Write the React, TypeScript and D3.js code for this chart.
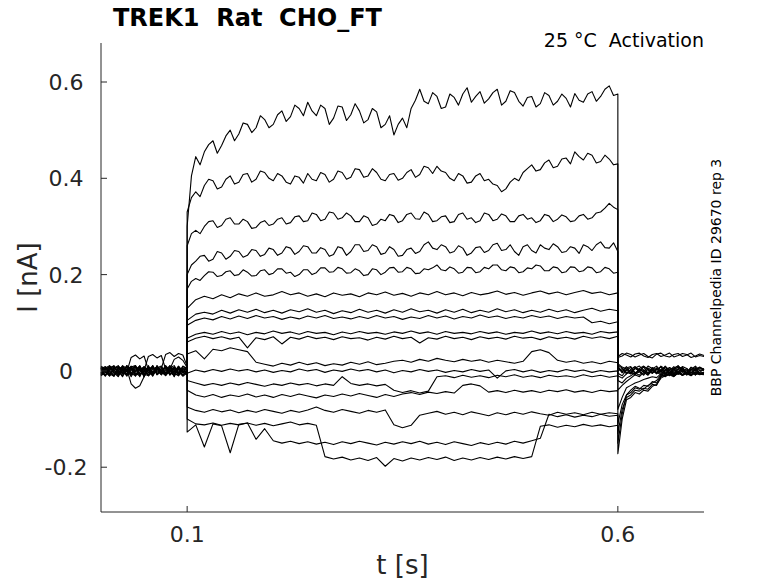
import * as d3 from 'd3';

// sample times [s]: holding, voltage step (fine / coarse), tail
const T_PRE = [
  0, 0.005, 0.01, 0.015, 0.02, 0.025, 0.03, 0.035, 0.04, 0.045,
  0.05, 0.055, 0.06, 0.065, 0.07, 0.075, 0.08, 0.085, 0.09, 0.095,
  0.1,
];
const T_STEP_FINE = [
  0.1, 0.105, 0.11, 0.115, 0.12, 0.125, 0.13, 0.135, 0.14, 0.145,
  0.15, 0.155, 0.16, 0.165, 0.17, 0.175, 0.18, 0.185, 0.19, 0.195,
  0.2, 0.205, 0.21, 0.215, 0.22, 0.225, 0.23, 0.235, 0.24, 0.245,
  0.25, 0.255, 0.26, 0.265, 0.27, 0.275, 0.28, 0.285, 0.29, 0.295,
  0.3, 0.305, 0.31, 0.315, 0.32, 0.325, 0.33, 0.335, 0.34, 0.345,
  0.35, 0.355, 0.36, 0.365, 0.37, 0.375, 0.38, 0.385, 0.39, 0.395,
  0.4, 0.405, 0.41, 0.415, 0.42, 0.425, 0.43, 0.435, 0.44, 0.445,
  0.45, 0.455, 0.46, 0.465, 0.47, 0.475, 0.48, 0.485, 0.49, 0.495,
  0.5, 0.505, 0.51, 0.515, 0.52, 0.525, 0.53, 0.535, 0.54, 0.545,
  0.55, 0.555, 0.56, 0.565, 0.57, 0.575, 0.58, 0.585, 0.59, 0.595,
  0.6,
];
const T_STEP = [
  0.1, 0.11, 0.12, 0.13, 0.14, 0.15, 0.16, 0.17, 0.18, 0.19,
  0.2, 0.21, 0.22, 0.23, 0.24, 0.25, 0.26, 0.27, 0.28, 0.29,
  0.3, 0.31, 0.32, 0.33, 0.34, 0.35, 0.36, 0.37, 0.38, 0.39,
  0.4, 0.41, 0.42, 0.43, 0.44, 0.45, 0.46, 0.47, 0.48, 0.49,
  0.5, 0.51, 0.52, 0.53, 0.54, 0.55, 0.56, 0.57, 0.58, 0.59,
  0.6,
];
const T_POST = [
  0.6, 0.605, 0.61, 0.615, 0.62, 0.625, 0.63, 0.635, 0.64, 0.645,
  0.65, 0.655, 0.66, 0.665, 0.67, 0.675, 0.68, 0.685, 0.69, 0.695,
  0.7,
];

// current sweeps [nA]: pre (21) | step (fine 101 or coarse 51) | post (21)
const SWEEP_01 = [
  0.004, 0.009, -0.003, -0.011, 0.002, 0.01, 0.006, -0.007, -0.002, 0.011,
  -0.006, -0.01, 0.003, 0.008, -0.001, -0.009, 0.007, 0.002, -0.005, 0.009, 0.003,
  0.3, 0.405, 0.445, 0.428, 0.455, 0.47, 0.478, 0.452, 0.468, 0.488,
  0.5, 0.478, 0.492, 0.515, 0.512, 0.495, 0.505, 0.53, 0.522, 0.505,
  0.512, 0.532, 0.54, 0.518, 0.528, 0.552, 0.545, 0.53, 0.558, 0.54,
  0.53, 0.552, 0.545, 0.512, 0.525, 0.55, 0.548, 0.52, 0.532, 0.555,
  0.54, 0.515, 0.522, 0.545, 0.538, 0.505, 0.512, 0.53, 0.49, 0.512,
  0.525, 0.505, 0.545, 0.562, 0.585, 0.56, 0.555, 0.578, 0.57, 0.545,
  0.548, 0.575, 0.568, 0.552, 0.575, 0.588, 0.558, 0.57, 0.58, 0.556,
  0.565, 0.578, 0.585, 0.552, 0.56, 0.582, 0.578, 0.56, 0.55, 0.568,
  0.57, 0.548, 0.555, 0.578, 0.572, 0.552, 0.56, 0.575, 0.566, 0.548,
  0.576, 0.562, 0.558, 0.575, 0.58, 0.56, 0.57, 0.585, 0.592, 0.572,
  0.575,
  0.03, 0.036, 0.033, 0.029, 0.035, 0.037, 0.031, 0.028, 0.034, 0.036,
  0.03, 0.033, 0.037, 0.029, 0.032, 0.036, 0.034, 0.028, 0.031, 0.035, 0.032,
];
const SWEEP_02 = [
  -0.006, 0.002, 0.01, -0.004, -0.012, 0.005, -0.001, 0.008, 0.011, -0.007,
  0.0, -0.01, 0.006, 0.003, -0.008, 0.01, -0.004, -0.009, 0.005, -0.001, -0.002,
  0.33, 0.36, 0.372, 0.362, 0.385, 0.398, 0.395, 0.378, 0.382, 0.398,
  0.405, 0.388, 0.392, 0.408, 0.41, 0.392, 0.398, 0.415, 0.412, 0.4,
  0.395, 0.41, 0.405, 0.392, 0.388, 0.405, 0.402, 0.39, 0.41, 0.398,
  0.395, 0.412, 0.408, 0.392, 0.398, 0.415, 0.412, 0.398, 0.402, 0.42,
  0.418, 0.402, 0.405, 0.42, 0.412, 0.398, 0.395, 0.408, 0.41, 0.396,
  0.4, 0.412, 0.418, 0.402, 0.408, 0.425, 0.422, 0.41, 0.425, 0.415,
  0.412, 0.4, 0.395, 0.41, 0.405, 0.39, 0.392, 0.405, 0.41, 0.395,
  0.398, 0.388, 0.385, 0.372, 0.378, 0.392, 0.4, 0.395, 0.412, 0.42,
  0.428, 0.415, 0.418, 0.432, 0.438, 0.422, 0.425, 0.44, 0.442, 0.43,
  0.455, 0.445, 0.438, 0.452, 0.448, 0.432, 0.435, 0.448, 0.44, 0.428,
  0.43,
  0.028, 0.031, 0.037, 0.034, 0.029, 0.033, 0.036, 0.03, 0.027, 0.035,
  0.037, 0.031, 0.029, 0.034, 0.036, 0.03, 0.033, 0.037, 0.029, 0.032, 0.03,
];
const SWEEP_03 = [
  0.008, -0.002, -0.009, 0.005, 0.001, -0.006, 0.011, 0.004, -0.008, -0.003,
  0.009, 0.002, -0.011, 0.006, 0.01, -0.004, 0.0, 0.008, -0.01, 0.004, 0.004,
  0.26, 0.285, 0.292, 0.285, 0.3, 0.31, 0.312, 0.298, 0.302, 0.315,
  0.318, 0.305, 0.305, 0.315, 0.31, 0.296, 0.298, 0.308, 0.312, 0.302,
  0.305, 0.315, 0.318, 0.305, 0.308, 0.32, 0.322, 0.31, 0.312, 0.328,
  0.325, 0.312, 0.315, 0.33, 0.328, 0.315, 0.318, 0.328, 0.322, 0.31,
  0.31, 0.322, 0.318, 0.302, 0.305, 0.315, 0.312, 0.325, 0.322, 0.308,
  0.312, 0.325, 0.328, 0.316, 0.315, 0.33, 0.325, 0.31, 0.312, 0.32,
  0.322, 0.308, 0.31, 0.325, 0.328, 0.315, 0.318, 0.308, 0.312, 0.328,
  0.325, 0.312, 0.315, 0.326, 0.322, 0.31, 0.31, 0.322, 0.325, 0.315,
  0.318, 0.308, 0.312, 0.325, 0.322, 0.31, 0.315, 0.324, 0.32, 0.31,
  0.312, 0.322, 0.325, 0.315, 0.318, 0.328, 0.33, 0.338, 0.348, 0.34,
  0.335,
  0.015, 0.008, 0.004, -0.003, 0.006, 0.01, 0.001, -0.004, 0.007, 0.002,
  0.009, -0.002, -0.005, 0.006, 0.01, 0.003, -0.003, 0.008, 0.001, 0.006, 0.003,
];
const SWEEP_04 = [
  -0.01, -0.003, 0.006, 0.011, -0.005, 0.002, -0.009, 0.007, -0.001, 0.01,
  -0.012, 0.004, 0.008, -0.006, 0.001, 0.009, -0.007, -0.002, 0.01, -0.004, 0.0,
  0.2, 0.22, 0.228, 0.238, 0.24, 0.228, 0.232, 0.248, 0.245, 0.232,
  0.238, 0.25, 0.248, 0.236, 0.24, 0.252, 0.25, 0.238, 0.242, 0.255,
  0.252, 0.24, 0.245, 0.258, 0.255, 0.242, 0.248, 0.26, 0.258, 0.245,
  0.245, 0.256, 0.252, 0.238, 0.242, 0.258, 0.255, 0.24, 0.248, 0.262,
  0.262, 0.248, 0.25, 0.262, 0.258, 0.242, 0.245, 0.258, 0.252, 0.238,
  0.24, 0.252, 0.255, 0.244, 0.248, 0.262, 0.268, 0.255, 0.252, 0.262,
  0.258, 0.245, 0.248, 0.26, 0.255, 0.24, 0.245, 0.256, 0.258, 0.246,
  0.25, 0.262, 0.265, 0.25, 0.252, 0.262, 0.248, 0.24, 0.258, 0.262,
  0.25, 0.245, 0.262, 0.255, 0.252, 0.264, 0.258, 0.246, 0.248, 0.258,
  0.255, 0.244, 0.262, 0.258, 0.25, 0.262, 0.268, 0.256, 0.255, 0.266,
  0.248,
  0.01, -0.002, 0.006, 0.009, -0.004, 0.001, 0.008, -0.005, 0.004, 0.01,
  -0.002, -0.006, 0.007, 0.002, -0.003, 0.009, 0.005, -0.004, 0.002, 0.008, 0.002,
];
const SWEEP_05 = [
  0.006, -0.004, 0.01, 0.001, -0.008, 0.005, -0.002, 0.028, 0.033, 0.025,
  0.031, 0.002, -0.009, 0.007, 0.001, -0.006, 0.01, -0.003, 0.005, -0.01, 0.002,
  0.17, 0.186, 0.192, 0.188, 0.198, 0.206, 0.205, 0.196, 0.198, 0.206,
  0.208, 0.198, 0.2, 0.21, 0.205, 0.197, 0.198, 0.208, 0.21, 0.2,
  0.203, 0.212, 0.212, 0.203, 0.205, 0.196, 0.2, 0.21, 0.21, 0.2,
  0.204, 0.214, 0.214, 0.205, 0.206, 0.215, 0.212, 0.203, 0.204, 0.212,
  0.208, 0.198, 0.2, 0.212, 0.21, 0.2, 0.205, 0.214, 0.215, 0.205,
  0.206, 0.215, 0.212, 0.202, 0.203, 0.212, 0.21, 0.214, 0.22, 0.21,
  0.208, 0.216, 0.212, 0.203, 0.205, 0.215, 0.214, 0.204, 0.206, 0.215,
  0.212, 0.22, 0.22, 0.21, 0.208, 0.216, 0.214, 0.204, 0.206, 0.214,
  0.212, 0.22, 0.218, 0.208, 0.208, 0.216, 0.214, 0.204, 0.206, 0.216,
  0.215, 0.206, 0.208, 0.216, 0.214, 0.204, 0.206, 0.215, 0.212, 0.203,
  0.205,
  0.012, 0.006, -0.003, -0.006, 0.008, 0.003, -0.002, 0.01, 0.005, -0.005,
  0.001, 0.009, -0.004, 0.004, 0.011, -0.001, -0.006, 0.007, 0.002, -0.003, 0.004,
];
const SWEEP_06 = [
  -0.004, 0.005, -0.009, 0.008, 0.001, -0.011, 0.004, -0.027, -0.036, -0.031,
  -0.012, 0.006, -0.003, 0.009, -0.008, 0.002, 0.011, -0.005, -0.01, 0.004, 0.005,
  0.13, 0.148, 0.155, 0.15, 0.158, 0.152, 0.16, 0.155, 0.162, 0.155,
  0.158, 0.165, 0.158, 0.162, 0.155, 0.16, 0.154, 0.162, 0.157, 0.16,
  0.154, 0.162, 0.158, 0.164, 0.157, 0.161, 0.155, 0.162, 0.158, 0.165,
  0.158, 0.162, 0.156, 0.163, 0.158, 0.161, 0.166, 0.159, 0.163, 0.157,
  0.162, 0.166, 0.16, 0.164, 0.158, 0.163, 0.167, 0.161, 0.164, 0.158,
  0.162,
  0.005, 0.001, 0.009, -0.004, -0.007, 0.005, 0.01, 0.002, -0.005, 0.003,
  0.008, -0.006, 0.0, 0.009, -0.002, 0.006, -0.007, 0.003, 0.01, 0.001, 0.004,
];
const SWEEP_07 = [
  0.009, 0.002, -0.007, 0.004, -0.011, 0.008, 0.003, -0.005, 0.01, -0.009,
  0.001, 0.03, 0.034, 0.027, 0.032, 0.004, -0.008, 0.006, -0.002, -0.011, -0.004,
  0.105, 0.118, 0.122, 0.118, 0.126, 0.12, 0.127, 0.122, 0.128, 0.121,
  0.126, 0.12, 0.127, 0.123, 0.129, 0.122, 0.126, 0.119, 0.125, 0.121,
  0.128, 0.122, 0.126, 0.12, 0.127, 0.122, 0.129, 0.123, 0.126, 0.12,
  0.127, 0.122, 0.128, 0.121, 0.126, 0.122, 0.129, 0.123, 0.127, 0.121,
  0.126, 0.122, 0.128, 0.123, 0.127, 0.121, 0.126, 0.13, 0.124, 0.128,
  0.125,
  0.008, -0.004, 0.002, 0.007, -0.006, -0.002, 0.009, 0.004, -0.005, 0.006,
  -0.003, 0.01, 0.001, -0.007, 0.005, 0.008, -0.004, 0.002, 0.007, -0.005, -0.005,
];
const SWEEP_08 = [
  -0.007, 0.006, 0.011, -0.003, -0.009, 0.002, 0.008, -0.012, 0.004, 0.009,
  -0.005, 0.0, 0.01, -0.008, 0.005, 0.034, 0.038, 0.03, 0.036, 0.033, 0.01,
  0.095, 0.105, 0.11, 0.106, 0.113, 0.108, 0.114, 0.109, 0.115, 0.11,
  0.113, 0.107, 0.112, 0.108, 0.114, 0.11, 0.115, 0.109, 0.112, 0.108,
  0.113, 0.109, 0.115, 0.11, 0.113, 0.107, 0.112, 0.109, 0.115, 0.11,
  0.114, 0.108, 0.113, 0.11, 0.116, 0.111, 0.114, 0.109, 0.113, 0.11,
  0.115, 0.111, 0.114, 0.109, 0.113, 0.11, 0.112, 0.1, 0.103, 0.098,
  0.102,
  0.0, 0.005, -0.006, 0.003, 0.009, -0.002, -0.007, 0.006, 0.001, -0.004,
  0.01, 0.004, -0.006, 0.002, 0.008, -0.003, 0.005, -0.008, 0.003, 0.007, 0.004,
];
const SWEEP_09 = [
  0.005, -0.011, 0.002, 0.009, -0.004, 0.007, -0.009, 0.001, 0.011, -0.006,
  -0.001, 0.008, -0.01, 0.004, 0.0, -0.007, 0.01, 0.003, -0.009, 0.006, -0.005,
  0.068, 0.076, 0.08, 0.076, 0.082, 0.077, 0.081, 0.075, 0.08, 0.077,
  0.083, 0.078, 0.081, 0.076, 0.082, 0.078, 0.08, 0.075, 0.081, 0.077,
  0.082, 0.078, 0.08, 0.076, 0.081, 0.078, 0.083, 0.078, 0.081, 0.076,
  0.082, 0.078, 0.08, 0.077, 0.082, 0.078, 0.081, 0.076, 0.08, 0.078,
  0.083, 0.078, 0.081, 0.077, 0.082, 0.078, 0.08, 0.076, 0.082, 0.079,
  0.081,
  -0.005, -0.01, 0.002, -0.006, 0.005, 0.0, -0.009, 0.004, -0.003, 0.006,
  -0.008, 0.001, 0.007, -0.005, -0.002, 0.005, -0.009, 0.003, 0.0, -0.006, -0.004,
];
const SWEEP_10 = [
  -0.008, 0.007, -0.001, -0.01, 0.01, 0.003, -0.006, 0.009, -0.011, 0.002,
  0.006, -0.004, 0.011, -0.008, -0.002, 0.007, 0.001, -0.01, 0.008, -0.003, 0.002,
  0.06, 0.068, 0.072, 0.067, 0.071, 0.066, 0.07, 0.048, 0.069, 0.065,
  0.071, 0.056, 0.07, 0.066, 0.072, 0.067, 0.07, 0.065, 0.071, 0.067,
  0.069, 0.064, 0.07, 0.066, 0.072, 0.067, 0.07, 0.058, 0.069, 0.066,
  0.072, 0.067, 0.07, 0.065, 0.071, 0.067, 0.07, 0.066, 0.072, 0.068,
  0.07, 0.065, 0.071, 0.067, 0.07, 0.066, 0.072, 0.068, 0.071, 0.067,
  0.072,
  -0.01, -0.015, -0.006, 0.002, -0.009, 0.004, -0.002, -0.008, 0.005, -0.004,
  0.002, -0.01, 0.003, 0.006, -0.007, 0.0, -0.005, 0.004, -0.009, 0.002, 0.001,
];
const SWEEP_11 = [
  0.007, 0.0, -0.01, 0.006, 0.011, -0.004, -0.008, 0.003, 0.009, -0.012,
  0.005, 0.001, -0.007, 0.01, -0.003, -0.009, 0.006, 0.011, -0.005, 0.002, 0.004,
  0.035, 0.042, 0.025, 0.045, 0.042, 0.048, 0.044, 0.04, 0.018, 0.014,
  0.01, 0.016, 0.012, 0.018, 0.013, 0.017, 0.011, 0.015, 0.012, 0.018,
  0.014, 0.019, 0.013, 0.016, 0.02, 0.022, 0.018, 0.024, 0.02, 0.026,
  0.022, 0.019, 0.024, 0.02, 0.023, 0.018, 0.022, 0.019, 0.016, 0.02,
  0.04, 0.044, 0.038, 0.022, 0.018, 0.021, 0.016, 0.019, 0.015, 0.02,
  0.017,
  -0.02, -0.025, -0.015, -0.01, -0.004, -0.009, 0.002, -0.006, 0.005, -0.003,
  -0.008, 0.003, 0.0, -0.006, 0.004, -0.009, 0.002, -0.004, 0.006, -0.007, -0.005,
];
const SWEEP_12 = [
  -0.003, -0.01, 0.005, 0.001, -0.007, 0.011, -0.002, -0.009, 0.007, 0.003,
  -0.011, 0.008, -0.004, 0.01, 0.0, -0.008, 0.004, -0.012, 0.009, 0.001, -0.006,
  -0.005, 0.002, -0.002, 0.003, -0.001, 0.004, 0.0, 0.003, -0.002, 0.002,
  -0.003, 0.001, -0.002, 0.004, 0.0, 0.003, -0.003, 0.002, -0.001, 0.004,
  0.0, 0.003, -0.002, 0.002, -0.004, 0.001, -0.002, 0.003, -0.001, 0.002,
  -0.003, 0.001, -0.002, 0.003, -0.001, 0.002, -0.015, 0.0, 0.003, -0.002,
  0.002, -0.003, 0.001, -0.002, 0.003, -0.001, 0.002, -0.003, 0.001, -0.002,
  0.0,
  -0.04, -0.03, -0.022, -0.015, -0.008, -0.012, -0.003, -0.009, 0.001, -0.006,
  0.003, -0.004, -0.01, -0.001, -0.007, 0.002, -0.005, -0.009, -0.002, -0.006, -0.002,
];
const SWEEP_13 = [
  0.01, 0.004, -0.006, -0.011, 0.007, 0.0, 0.009, -0.005, -0.01, 0.006,
  0.002, -0.008, 0.011, -0.003, 0.005, -0.009, -0.001, 0.008, -0.006, 0.01, 0.005,
  -0.02, -0.025, -0.03, -0.026, -0.03, -0.025, -0.029, -0.024, -0.028, -0.032,
  -0.027, -0.03, -0.025, -0.029, -0.026, -0.031, -0.027, -0.03, -0.012, -0.026,
  -0.03, -0.027, -0.031, -0.028, -0.04, -0.045, -0.041, -0.046, -0.042, -0.012,
  -0.01, -0.014, -0.009, -0.013, -0.01, -0.014, -0.009, -0.012, -0.008, -0.013,
  -0.01, -0.014, -0.009, -0.012, -0.01, -0.013, -0.008, -0.012, -0.009, -0.013,
  -0.01,
  -0.08, -0.055, -0.035, -0.03, -0.025, -0.022, -0.018, -0.015, -0.012, -0.014,
  -0.006, -0.01, -0.004, -0.008, -0.002, -0.007, -0.004, -0.009, -0.003, -0.006, -0.007,
];
const SWEEP_14 = [
  -0.009, 0.003, 0.008, -0.005, 0.0, -0.012, 0.01, 0.004, -0.007, 0.002,
  0.009, -0.01, -0.003, 0.007, -0.008, 0.011, 0.001, -0.006, 0.009, -0.004, -0.008,
  -0.04, -0.05, -0.054, -0.049, -0.055, -0.05, -0.053, -0.048, -0.054, -0.05,
  -0.055, -0.049, -0.053, -0.048, -0.052, -0.056, -0.05, -0.053, -0.048, -0.052,
  -0.047, -0.051, -0.055, -0.049, -0.053, -0.048, -0.045, -0.049, -0.044, -0.047,
  -0.043, -0.046, -0.03, -0.027, -0.031, -0.044, -0.041, -0.045, -0.04, -0.044,
  -0.041, -0.045, -0.04, -0.043, -0.039, -0.044, -0.041, -0.045, -0.04, -0.043,
  -0.041,
  -0.11, -0.07, -0.05, -0.045, -0.035, -0.038, -0.03, -0.032, -0.022, -0.025,
  -0.01, -0.008, -0.005, -0.009, -0.003, -0.008, -0.005, -0.002, -0.008, -0.004, -0.004,
];
const SWEEP_15 = [
  0.003, -0.009, 0.006, 0.01, -0.004, 0.001, -0.011, 0.008, -0.002, 0.005,
  -0.008, 0.011, -0.005, 0.002, 0.009, -0.01, 0.004, 0.024, 0.029, 0.022, 0.007,
  -0.075, -0.082, -0.086, -0.08, -0.085, -0.081, -0.087, -0.082, -0.086, -0.08,
  -0.084, -0.088, -0.082, -0.086, -0.081, -0.075, -0.082, -0.086, -0.08, -0.084,
  -0.088, -0.082, -0.086, -0.081, -0.112, -0.118, -0.113, -0.092, -0.088, -0.084,
  -0.09, -0.086, -0.091, -0.085, -0.089, -0.093, -0.087, -0.091, -0.086, -0.09,
  -0.085, -0.089, -0.092, -0.086, -0.09, -0.087, -0.091, -0.086, -0.09, -0.087,
  -0.089,
  -0.13, -0.08, -0.055, -0.05, -0.04, -0.042, -0.036, -0.038, -0.028, -0.03,
  -0.012, -0.009, -0.006, -0.011, -0.004, -0.009, -0.003, -0.007, -0.005, -0.008, -0.006,
];
const SWEEP_16 = [
  -0.005, 0.008, 0.002, -0.01, 0.006, -0.003, 0.011, -0.007, 0.0, 0.009,
  -0.012, 0.004, 0.007, -0.006, -0.001, 0.01, -0.009, 0.005, 0.002, -0.008, -0.003,
  -0.1, -0.11, -0.112, -0.108, -0.113, -0.109, -0.112, -0.108, -0.142, -0.12,
  -0.145, -0.15, -0.146, -0.151, -0.147, -0.152, -0.148, -0.153, -0.147, -0.151,
  -0.146, -0.15, -0.154, -0.148, -0.152, -0.147, -0.151, -0.146, -0.152, -0.148,
  -0.153, -0.147, -0.151, -0.155, -0.149, -0.153, -0.148, -0.152, -0.146, -0.15,
  -0.145, -0.14, -0.09, -0.095, -0.091, -0.096, -0.092, -0.095, -0.09, -0.094,
  -0.092,
  -0.15, -0.09, -0.05, -0.04, -0.032, -0.036, -0.038, -0.03, -0.025, -0.02,
  -0.008, -0.012, -0.006, -0.01, -0.005, -0.009, -0.003, -0.008, -0.004, -0.007, -0.008,
];
const SWEEP_17 = [
  0.006, -0.002, -0.011, 0.004, 0.009, -0.007, 0.001, 0.01, -0.005, -0.01,
  0.007, 0.003, -0.008, 0.011, -0.004, 0.0, 0.008, -0.011, 0.005, -0.003, 0.009,
  -0.127, -0.112, -0.158, -0.11, -0.114, -0.17, -0.111, -0.108, -0.113, -0.109,
  -0.114, -0.11, -0.106, -0.112, -0.109, -0.113, -0.178, -0.183, -0.179, -0.185,
  -0.181, -0.186, -0.18, -0.198, -0.182, -0.187, -0.181, -0.185, -0.18, -0.184,
  -0.179, -0.186, -0.181, -0.185, -0.18, -0.184, -0.179, -0.183, -0.178, -0.182,
  -0.178, -0.115, -0.112, -0.117, -0.113, -0.116, -0.111, -0.115, -0.112, -0.116,
  -0.113,
  -0.172, -0.1, -0.06, -0.055, -0.045, -0.048, -0.04, -0.042, -0.032, -0.028,
  -0.015, -0.01, -0.008, -0.012, -0.004, -0.009, -0.006, -0.01, -0.003, -0.007, -0.005,
];

const SWEEPS = [
  SWEEP_01, SWEEP_02, SWEEP_03, SWEEP_04, SWEEP_05, SWEEP_06, SWEEP_07, SWEEP_08, SWEEP_09,
  SWEEP_10, SWEEP_11, SWEEP_12, SWEEP_13, SWEEP_14, SWEEP_15, SWEEP_16, SWEEP_17,
];

const Y_TICKS = [-0.2, 0, 0.2, 0.4, 0.6];
const Y_TICK_LABELS = ['-0.2', '0', '0.2', '0.4', '0.6'];
const X_TICKS = [0.1, 0.6];
const X_TICK_LABELS = ['0.1', '0.6'];

const TITLE = 'TREK1  Rat  CHO_FT';
const CONDITION = '25 °C  Activation';
const SOURCE = 'BBP Channelpedia ID 29670 rep 3';

export default function App() {
  const width = 778;
  const height = 583;
  const margin = { left: 101, right: 74, top: 43, bottom: 71 };

  const x = d3
    .scaleLinear()
    .domain([0, 0.7])
    .range([margin.left, width - margin.right]);
  const y = d3
    .scaleLinear()
    .domain([-0.293, 0.681])
    .range([height - margin.bottom, margin.top]);

  const fineTimes = [...T_PRE, ...T_STEP_FINE, ...T_POST];
  const coarseTimes = [...T_PRE, ...T_STEP, ...T_POST];

  const pathFor = (s: number[]) => {
    const times = s.length === fineTimes.length ? fineTimes : coarseTimes;
    return (
      d3
        .line<number>()
        .x((_, i) => x(times[i]))
        .y((d) => y(d))(s) ?? ''
    );
  };

  const x0 = margin.left;
  const x1 = width - margin.right;
  const y0 = height - margin.bottom;
  const y1 = margin.top;
  const axisColor = '#262626';

  return (
    <svg
      width={width}
      height={height}
      style={{ position: 'absolute', left: 0, top: 0, background: '#fff' }}
      fontFamily="'DejaVu Sans', sans-serif"
    >
      <rect width={width} height={height} fill="#fff" />

      {/* sweeps */}
      <g fill="none" stroke="#000" strokeWidth={1.1} strokeLinejoin="round">
        {SWEEPS.map((s, i) => (
          <path key={i} d={pathFor(s)} />
        ))}
      </g>

      {/* axes */}
      <g stroke={axisColor} strokeWidth={1} fill="none">
        <line x1={x0} y1={y0} x2={x1} y2={y0} />
        <line x1={x0} y1={y0} x2={x0} y2={y1} />
        {Y_TICKS.map((t) => (
          <line key={t} x1={x0} x2={x0 + 6} y1={y(t)} y2={y(t)} />
        ))}
        {X_TICKS.map((t) => (
          <line key={t} x1={x(t)} x2={x(t)} y1={y0} y2={y0 - 6} />
        ))}
      </g>

      <g fill={axisColor} fontSize={22} textAnchor="middle">
        {Y_TICKS.map((t, i) => (
          <text key={t} x={66} y={y(t) + 8}>
            {Y_TICK_LABELS[i]}
          </text>
        ))}
        {X_TICKS.map((t, i) => (
          <text key={t} x={x(t)} y={542}>
            {X_TICK_LABELS[i]}
          </text>
        ))}
      </g>

      <text x={(x0 + x1) / 2} y={574} fontSize={26} textAnchor="middle" fill={axisColor}>
        t [s]
      </text>
      <text
        transform={`translate(37,${(y0 + y1) / 2}) rotate(-90)`}
        fontSize={26}
        textAnchor="middle"
        fill={axisColor}
      >
        I [nA]
      </text>

      <text x={113} y={26} fontSize={24} fontWeight="bold" fill="#000" style={{ whiteSpace: 'pre' }}>
        {TITLE}
      </text>
      <text x={x1} y={47} fontSize={19} textAnchor="end" fill="#000" style={{ whiteSpace: 'pre' }}>
        {CONDITION}
      </text>
      <text
        transform={`translate(721,${(y0 + y1) / 2}) rotate(-90)`}
        fontSize={14}
        textAnchor="middle"
        fill="#000"
      >
        {SOURCE}
      </text>
    </svg>
  );
}
